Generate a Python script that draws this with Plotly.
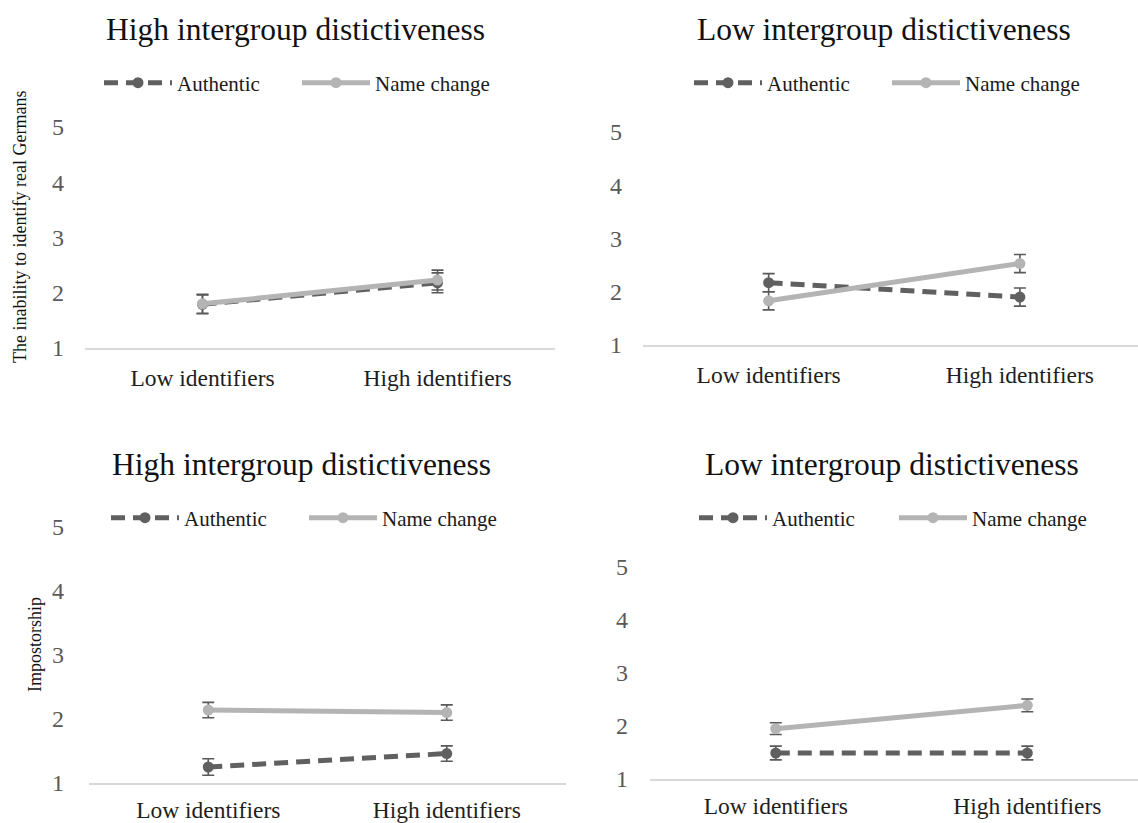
import plotly.graph_objects as go

W, H = 1138, 823
FONT = "Liberation Serif, Times New Roman, serif"

categories = ["Low identifiers", "High identifiers"]
series_names = ["Authentic", "Name change"]
y_ticks = [1, 2, 3, 4, 5]

titles = ["High intergroup distictiveness", "Low intergroup distictiveness",
          "High intergroup distictiveness", "Low intergroup distictiveness"]
y_titles = ["The inability to identify real Germans", "", "Impostorship", ""]

# Panel A: inability to identify, high distinctiveness
a_auth = [1.79, 2.18]
a_auth_err = [0.17, 0.18]
a_nc = [1.80, 2.23]
a_nc_err = [0.17, 0.18]
# Panel B: inability to identify, low distinctiveness
b_auth = [2.17, 1.90]
b_auth_err = [0.17, 0.17]
b_nc = [1.83, 2.53]
b_nc_err = [0.17, 0.17]
# Panel C: impostorship, high distinctiveness
c_auth = [1.25, 1.46]
c_auth_err = [0.13, 0.12]
c_nc = [2.14, 2.10]
c_nc_err = [0.12, 0.12]
# Panel D: impostorship, low distinctiveness
d_auth = [1.49, 1.49]
d_auth_err = [0.13, 0.13]
d_nc = [1.95, 2.39]
d_nc_err = [0.11, 0.12]

panels = [
    (a_auth, a_auth_err, a_nc, a_nc_err),
    (b_auth, b_auth_err, b_nc, b_nc_err),
    (c_auth, c_auth_err, c_nc, c_nc_err),
    (d_auth, d_auth_err, d_nc, d_nc_err),
]

# layout in pixels: (x0, x1, ytop, ybottom, xrange_max)
boxes = [
    (85, 555, 127, 348, 1.5),
    (643, 1138, 132, 345, 1.47),
    (89, 566, 527, 783, 1.5),
    (650, 1138, 567, 779, 1.44),
]
title_pos = [(295, 29), (884, 29), (301, 464), (892, 464)]
# (authentic legend x, name change legend x, y)
legend_pos = [(99, 297, 83), (689, 887, 83), (106, 304, 518), (694, 894, 518)]
ytitle_pos = [(20, 227), None, (35, 645), None]
y_standoffs = [20, 20, 24, 21]
x_standoffs = [8, 8, 5, 5]

AUTH_C = "#606060"
NC_C = "#b4b4b4"
ERR_C = "#595959"


def px(x):
    return x / W


def py(y):
    return 1 - y / H


def leg_style(x, y):
    return dict(orientation="h", x=px(x), y=py(y), xanchor="left",
                yanchor="middle", itemwidth=68,
                font=dict(family=FONT, size=21, color="#1a1a1a"),
                bgcolor="rgba(0,0,0,0)", borderwidth=0)


fig = go.Figure()
annotations = []
for i, (auth, auth_err, nc, nc_err) in enumerate(panels):
    n = i + 1
    xa = "x" if n == 1 else f"x{n}"
    ya = "y" if n == 1 else f"y{n}"
    lg_a = "legend" if i == 0 else f"legend{2 * i + 1}"
    lg_n = f"legend{2 * i + 2}"
    fig.add_trace(go.Scatter(
        x=categories, y=auth, name=series_names[0], mode="lines+markers",
        xaxis=xa, yaxis=ya, legend=lg_a,
        line=dict(color=AUTH_C, width=5, dash="14px,8px"),
        marker=dict(color=AUTH_C, size=11, symbol="circle"),
        error_y=dict(type="data", array=auth_err, visible=True,
                     color=ERR_C, thickness=1.6, width=6),
    ))
    fig.add_trace(go.Scatter(
        x=categories, y=nc, name=series_names[1], mode="lines+markers",
        xaxis=xa, yaxis=ya, legend=lg_n,
        line=dict(color=NC_C, width=5),
        marker=dict(color=NC_C, size=11, symbol="circle"),
        error_y=dict(type="data", array=nc_err, visible=True,
                     color=ERR_C, thickness=1.6, width=6),
    ))
    x0, x1, yt, yb, xmax = boxes[i]
    xkey = "xaxis" if n == 1 else f"xaxis{n}"
    ykey = "yaxis" if n == 1 else f"yaxis{n}"
    lax, lnx, ly = legend_pos[i]
    fig.update_layout(**{
        xkey: dict(domain=[px(x0), px(x1)], anchor=ya, type="category",
                   categoryorder="array", categoryarray=categories,
                   range=[-0.5, xmax], showline=True, linecolor="#d9d9d9",
                   linewidth=2, showgrid=False, zeroline=False, ticks="",
                   tickfont=dict(family=FONT, size=23.5, color="#1e1e1e"),
                   ticklabelstandoff=x_standoffs[i], fixedrange=True,
                   automargin=False),
        ykey: dict(domain=[py(yb), py(yt)], anchor=xa, range=[1, 5],
                   tickvals=y_ticks, showline=False, showgrid=False,
                   zeroline=False, ticks="",
                   tickfont=dict(family=FONT, size=24, color="#595959"),
                   ticklabelstandoff=y_standoffs[i], fixedrange=True,
                   automargin=False),
        lg_a: leg_style(lax, ly),
        lg_n: leg_style(lnx, ly),
    })
    tx, ty = title_pos[i]
    annotations.append(dict(text=titles[i], x=px(tx), y=py(ty), xref="paper",
                            yref="paper", showarrow=False, xanchor="center",
                            yanchor="middle",
                            font=dict(family=FONT, size=31.5, color="#111111")))
    if ytitle_pos[i]:
        ax, ay = ytitle_pos[i]
        annotations.append(dict(text=y_titles[i], x=px(ax), y=py(ay),
                                xref="paper", yref="paper", showarrow=False,
                                textangle=-90, xanchor="center",
                                yanchor="middle",
                                font=dict(family=FONT, size=18,
                                          color="#111111")))

fig.update_layout(width=W, height=H,
                  margin=dict(l=0, r=0, t=0, b=0, autoexpand=False),
                  font=dict(family=FONT),
                  paper_bgcolor="white", plot_bgcolor="white",
                  annotations=annotations, showlegend=True)

fig.write_html("out.html", config={"displayModeBar": False},
               post_script="document.body.style.margin='0';document.body.style.overflow='hidden';")
